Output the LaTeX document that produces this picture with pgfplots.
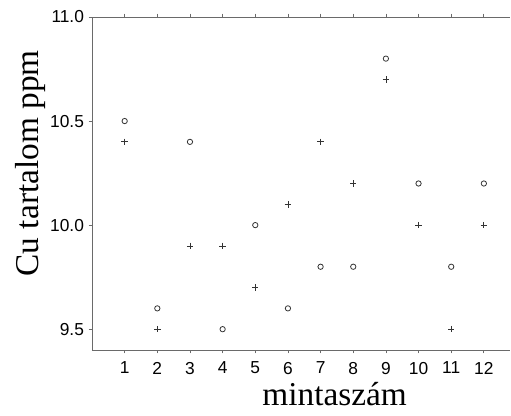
\documentclass[border=0pt]{standalone}
\usepackage{fontspec}
\setmainfont{Liberation Serif}
\newfontfamily\tickfont{Liberation Sans}
\usepackage{pgfplots}
\pgfplotsset{compat=1.18}
\definecolor{axisgray}{HTML}{6A6A6A}
\definecolor{markgray}{HTML}{333333}

\begin{document}
\begin{tikzpicture}[x=1pt,y=1pt]
\begin{axis}[
  at={(0,0)}, anchor=south west,
  width=313.5pt, height=249.75pt, scale only axis,
  xmin=0, xmax=12.8, ymin=9.4, ymax=11.0,
  axis x line=box, axis y line=left,
  axis line style={axisgray, line width=0.7pt, -},
  xtick={1,2,...,12}, ytick={9.5,10.0,10.5,11.0},
  tick align=outside, major tick length=2.5pt,
  tick style={axisgray, line width=0.6pt},
  xtick pos=both, ytick pos=left,
  yticklabel style={/pgf/number format/fixed, /pgf/number format/fixed zerofill,
    /pgf/number format/precision=1},
  /pgf/number format/assume math mode=true,
  tick label style={font=\tickfont\fontsize{13}{13}\selectfont, black},
  xticklabel style={yshift=-3pt},
  clip=false]
\addplot[only marks, mark=o, mark size=2pt, mark options={markgray, line width=0.6pt}]
  coordinates {(1,10.5) (2,9.6) (3,10.4) (4,9.5) (5,10.0) (6,9.6)
               (7,9.8) (8,9.8) (9,10.8) (10,10.2) (11,9.8) (12,10.2)};
\addplot[only marks, mark=+, mark size=2.4pt, mark options={markgray, line width=0.6pt}]
  coordinates {(1,10.4) (2,9.5) (3,9.9) (4,9.9) (5,9.7) (6,10.1)
               (7,10.4) (8,10.2) (9,10.7) (10,10.0) (11,9.5) (12,10.0)};
\end{axis}
% axis titles, set where the original puts them
\node[rotate=90, font=\fontsize{25}{25}\selectfont, anchor=center] at (-46.5pt,140pt) {Cu tartalom ppm};
\node[font=\fontsize{25}{25}\selectfont, anchor=base] at (182pt,-42pt) {mintaszám};
\pgfresetboundingbox
\path (-69pt,-49.5pt) rectangle (314.25pt,262.5pt);
\end{tikzpicture}
\end{document}
